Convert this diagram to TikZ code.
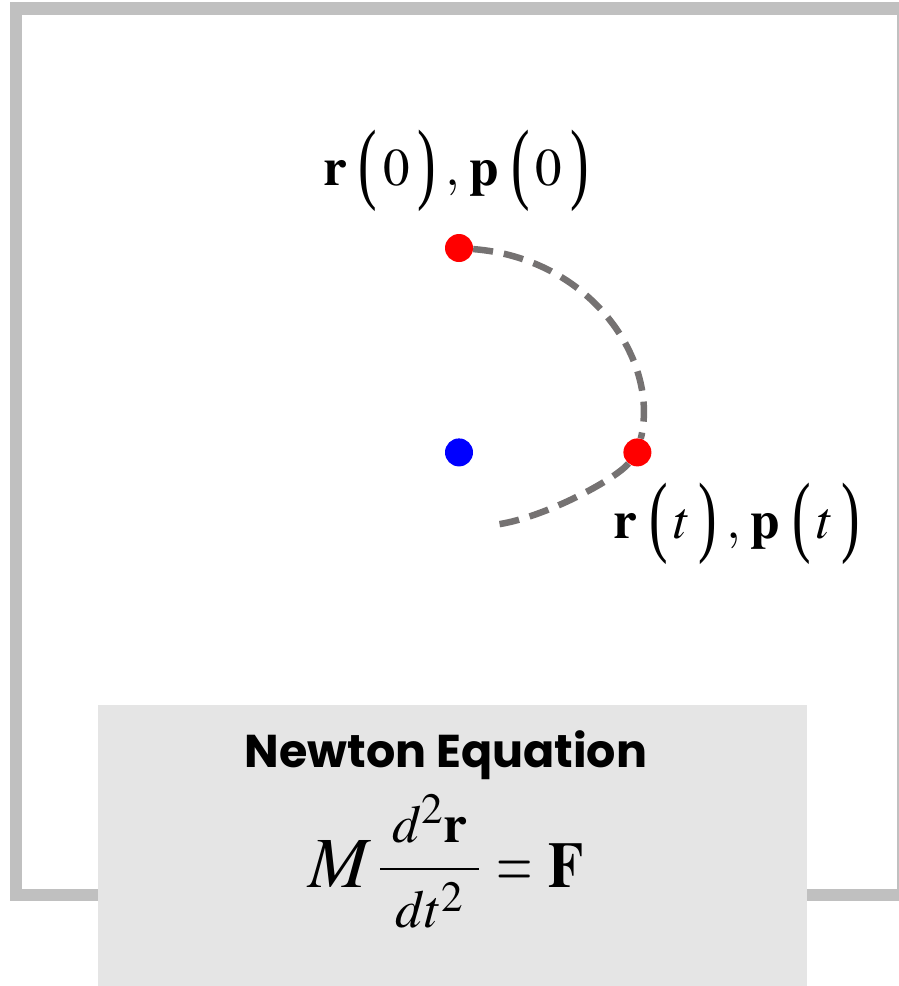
\documentclass[tikz,border=0pt]{standalone}
\usepackage{mathptmx}
\usepackage{fontspec}
\setmainfont{Liberation Serif}
\newfontfamily\headfont{Poppins}
\usetikzlibrary{positioning}
\definecolor{framegray}{HTML}{C0C0C0}
\definecolor{boxgray}{HTML}{E5E5E5}
\definecolor{orbitgray}{HTML}{757272}
% tall thin brackets round the time argument
\newcommand{\lstate}{\mathopen{\raisebox{-7pt}{\scalebox{1.05}[1.7]{(}}}}
\newcommand{\rstate}{\mathclose{\raisebox{-7pt}{\scalebox{1.05}[1.7]{)}}}}
\newcommand{\statepair}[1]{\mathbf{r}\kern12pt\lstate\kern6pt #1\kern8pt\rstate\kern9pt{,}\kern10pt\mathbf{p}\kern12pt\lstate\kern6pt #1\kern8pt\rstate}
\tikzset{
    frameline/.style={draw=framegray, line width=12.5pt},
    eqbox/.style={fill=boxgray, inner sep=0pt, minimum width=709pt, minimum height=281pt},
    reddot/.style={circle, fill=red, minimum size=28pt, inner sep=0pt},
    bluedot/.style={circle, fill=blue, minimum size=28pt, inner sep=0pt},
    orbitline/.style={draw=orbitgray, line width=6.5pt, dash pattern=on 20pt off 11pt},
    statelabel/.style={font=\fontsize{53}{60}\selectfont, inner sep=0pt},
    eqtitle/.style={font=\headfont\bfseries\fontsize{46}{54}\selectfont, inner sep=0pt, anchor=base},
    eqmath/.style={font=\fontsize{72}{80}\selectfont, inner sep=0pt, anchor=base}
}

\begin{document}
\begin{tikzpicture}[x=1pt, y=-1pt]
    \useasboundingbox (0,0) rectangle (899,986);
    \clip (0,0) rectangle (899,986);
    \draw[frameline] (16,8.3) rectangle (903,895);
    \node[reddot] (r0) at (459,248) {};
    \node[bluedot, below=176pt of r0] (c0) {};
    \node[reddot, right=150pt of c0] (rt) {};
    \coordinate (tail) at (493,525);
    \node[statelabel, above=22pt of r0, xshift=-3pt] (l0) {$\statepair{0}$};
    \node[statelabel, below right=20pt and -34pt of rt] (lt) {$\statepair{t}$};
    \draw[orbitline] (r0) .. controls (590,258) and (660,360) .. (rt) .. controls (615,480) and (540,520) .. (tail);
    \node[eqbox] (box) at (452.5,845.5) {};
    \node[eqtitle] (title) at (446,767) {Newton Equation};
    \node[eqmath] (newton) at (446,887) {$\textstyle M\,\frac{\kern12pt d^{2}\mathbf{r}\kern12pt\rule[-22pt]{0pt}{22pt}}{\rule{0pt}{54pt}dt^{2}}\mathrel{\scalebox{0.65}[1]{$=$}}\scalebox{0.8}[0.9]{$\mathbf{F}$}$};
\end{tikzpicture}
\end{document}
